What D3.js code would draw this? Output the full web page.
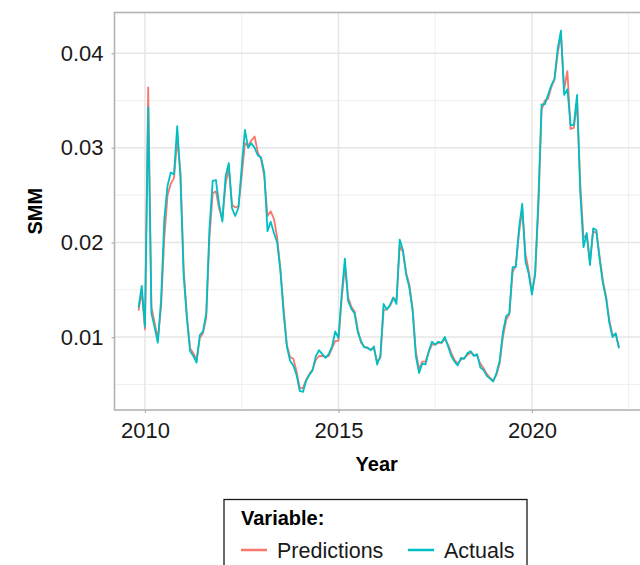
<!DOCTYPE html>
<html>
<head>
<meta charset="utf-8">
<script src="https://cdn.jsdelivr.net/npm/d3@7"></script>
<style>
  body { margin: 0; background: #fff; }
  svg { display: block; }
</style>
</head>
<body>
<div id="chart"></div>
<script>
// monthly SMM, first month Nov 2009
const startYear = 2009;
const startMonth = 10;

const actuals = [
  0.0131, 0.0154, 0.0111, 0.0343, 0.0125, 0.0110, 0.0094, 0.0140, 0.0225, 0.0260,
  0.0274, 0.0272, 0.0323, 0.0268, 0.0165, 0.0120, 0.0085, 0.0080, 0.0073, 0.0102,
  0.0106, 0.0125, 0.0215, 0.0265, 0.0266, 0.0240, 0.0222, 0.0270, 0.0284, 0.0236,
  0.0228, 0.0237, 0.0280, 0.0319, 0.0300, 0.0305, 0.0300, 0.0292, 0.0290, 0.0274,
  0.0212, 0.0222, 0.0210, 0.0200, 0.0170, 0.0125, 0.0090, 0.0075, 0.0070, 0.0060,
  0.0043, 0.0042, 0.0054, 0.0060, 0.0065, 0.0080, 0.0086, 0.0082, 0.0078, 0.0082,
  0.0090, 0.0106, 0.0099, 0.0145, 0.0183, 0.0138, 0.0130, 0.0125, 0.0105, 0.0096,
  0.0089, 0.0089, 0.0086, 0.0090, 0.0071, 0.0080, 0.0135, 0.0129, 0.0134, 0.0142,
  0.0135, 0.0203, 0.0192, 0.0166, 0.0152, 0.0128, 0.0080, 0.0062, 0.0072, 0.0071,
  0.0085, 0.0095, 0.0092, 0.0095, 0.0094, 0.0100, 0.0090, 0.0080, 0.0074, 0.0070,
  0.0078, 0.0077, 0.0083, 0.0085, 0.0080, 0.0082, 0.0068, 0.0065, 0.0059, 0.0056,
  0.0053, 0.0062, 0.0075, 0.0105, 0.0122, 0.0125, 0.0174, 0.0174, 0.0215, 0.0241,
  0.0180, 0.0167, 0.0145, 0.0168, 0.0245, 0.0346, 0.0346, 0.0356, 0.0366, 0.0373,
  0.0405, 0.0424, 0.0356, 0.0362, 0.0324, 0.0324, 0.0356, 0.0252, 0.0195, 0.0210,
  0.0176, 0.0215, 0.0213, 0.0182, 0.0157, 0.0141, 0.0115, 0.0100, 0.0104, 0.0088
];

const predictions = [
  0.0128, 0.0148, 0.0108, 0.0364, 0.0132, 0.0115, 0.0098, 0.0132, 0.0205, 0.0250,
  0.0262, 0.0268, 0.0309, 0.0275, 0.0172, 0.0122, 0.0088, 0.0083, 0.0076, 0.0099,
  0.0104, 0.0121, 0.0205, 0.0252, 0.0254, 0.0236, 0.0225, 0.0262, 0.0278, 0.0240,
  0.0237, 0.0238, 0.0270, 0.0305, 0.0302, 0.0308, 0.0312, 0.0295, 0.0288, 0.0270,
  0.0228, 0.0233, 0.0225, 0.0205, 0.0172, 0.0130, 0.0092, 0.0079, 0.0077, 0.0064,
  0.0046, 0.0046, 0.0055, 0.0061, 0.0066, 0.0076, 0.0080, 0.0080, 0.0079, 0.0080,
  0.0088, 0.0096, 0.0096, 0.0140, 0.0175, 0.0142, 0.0132, 0.0127, 0.0108, 0.0094,
  0.0090, 0.0088, 0.0087, 0.0088, 0.0074, 0.0078, 0.0128, 0.0130, 0.0133, 0.0140,
  0.0140, 0.0196, 0.0190, 0.0168, 0.0155, 0.0130, 0.0085, 0.0066, 0.0074, 0.0074,
  0.0084, 0.0092, 0.0092, 0.0094, 0.0094, 0.0098, 0.0092, 0.0083, 0.0076, 0.0072,
  0.0076, 0.0078, 0.0081, 0.0084, 0.0081, 0.0080, 0.0072, 0.0067, 0.0061, 0.0057,
  0.0054, 0.0060, 0.0072, 0.0100, 0.0118, 0.0124, 0.0168, 0.0176, 0.0210, 0.0235,
  0.0188, 0.0170, 0.0147, 0.0165, 0.0236, 0.0340, 0.0350, 0.0352, 0.0364, 0.0372,
  0.0400, 0.0420, 0.0362, 0.0381, 0.0320, 0.0321, 0.0348, 0.0262, 0.0205, 0.0208,
  0.0180, 0.0212, 0.0210, 0.0185, 0.0160, 0.0143, 0.0118, 0.0102, 0.0103, 0.0089
];

const xTicks = [2010, 2015, 2020];
const xMinor = [2012.5, 2017.5, 2022.5];
const yTicks = [0.01, 0.02, 0.03, 0.04];
const yMinor = [0.005, 0.015, 0.025, 0.035];
const seriesNames = ["Predictions", "Actuals"];
const seriesColors = ["#F8766D", "#00BFC4"];

const width = 640, height = 565;
const panel = { left: 114.5, top: 12.5, right: 643, bottom: 410 };
const font = "'Liberation Sans', Arial, sans-serif";

const svg = d3.select("#chart")
  .append("svg")
  .attr("width", width)
  .attr("height", height)
  .style("font-family", font);

const years = actuals.map((d, i) => startYear + (startMonth + i) / 12);

// ggplot-like 5% expansion
const xExt = d3.extent(years);
const xPad = (xExt[1] - xExt[0]) * 0.05;
const yExt = d3.extent(actuals.concat(predictions));
const yPad = (yExt[1] - yExt[0]) * 0.05;

const x = d3.scaleLinear()
  .domain([xExt[0] - xPad, xExt[1] + xPad])
  .range([panel.left, panel.right]);

const y = d3.scaleLinear()
  .domain([yExt[0] - yPad, yExt[1] + yPad])
  .range([panel.bottom, panel.top]);

// grid
const grid = svg.append("g");
grid.selectAll(".yminor").data(yMinor).join("line")
  .attr("x1", panel.left).attr("x2", panel.right)
  .attr("y1", d => y(d)).attr("y2", d => y(d))
  .attr("stroke", "#EEEEEE").attr("stroke-width", 1);
grid.selectAll(".xminor").data(xMinor).join("line")
  .attr("y1", panel.top).attr("y2", panel.bottom)
  .attr("x1", d => x(d)).attr("x2", d => x(d))
  .attr("stroke", "#EEEEEE").attr("stroke-width", 1);
grid.selectAll(".ymajor").data(yTicks).join("line")
  .attr("x1", panel.left).attr("x2", panel.right)
  .attr("y1", d => y(d)).attr("y2", d => y(d))
  .attr("stroke", "#E6E6E6").attr("stroke-width", 1.5);
grid.selectAll(".xmajor").data(xTicks).join("line")
  .attr("y1", panel.top).attr("y2", panel.bottom)
  .attr("x1", d => x(d)).attr("x2", d => x(d))
  .attr("stroke", "#E6E6E6").attr("stroke-width", 1.5);

// lines
const line = d3.line()
  .x((d, i) => x(years[i]))
  .y(d => y(d));

[predictions, actuals].forEach((s, k) => {
  svg.append("path")
    .datum(s)
    .attr("fill", "none")
    .attr("stroke", seriesColors[k])
    .attr("stroke-width", 1.8)
    .attr("stroke-linejoin", "round")
    .attr("d", line);
});

// panel border
svg.append("rect")
  .attr("x", panel.left).attr("y", panel.top)
  .attr("width", panel.right - panel.left)
  .attr("height", panel.bottom - panel.top)
  .attr("fill", "none")
  .attr("stroke", "#B3B3B3")
  .attr("stroke-width", 1.6);

// axes
const xAxis = svg.append("g")
  .attr("transform", `translate(0,${panel.bottom})`)
  .call(d3.axisBottom(x).tickValues(xTicks).tickFormat(d3.format("d")).tickSizeOuter(0).tickSize(3).tickPadding(9));
const yAxis = svg.append("g")
  .attr("transform", `translate(${panel.left},0)`)
  .call(d3.axisLeft(y).tickValues(yTicks).tickFormat(d3.format(".2f")).tickSizeOuter(0).tickSize(3).tickPadding(8));

[xAxis, yAxis].forEach(a => {
  a.select(".domain").remove();
  a.selectAll(".tick line").attr("stroke", "#B3B3B3").attr("stroke-width", 1.2);
  a.selectAll(".tick text")
    .attr("fill", "#1A1A1A")
    .style("font-size", "22px")
    .style("font-family", font);
});

// titles
svg.append("text")
  .attr("x", (panel.left + panel.right) / 2 - 2)
  .attr("y", 471)
  .attr("text-anchor", "middle")
  .style("font-size", "20px")
  .style("font-weight", "bold")
  .text("Year");

svg.append("text")
  .attr("transform", `translate(42,${(panel.top + panel.bottom) / 2}) rotate(-90)`)
  .attr("text-anchor", "middle")
  .style("font-size", "20px")
  .style("font-weight", "bold")
  .text("SMM");

// legend
const legend = svg.append("g");
legend.append("rect")
  .attr("x", 224).attr("y", 499.5)
  .attr("width", 303).attr("height", 90)
  .attr("fill", "#fff")
  .attr("stroke", "#1A1A1A")
  .attr("stroke-width", 1.3);

legend.append("text")
  .attr("x", 241).attr("y", 525)
  .style("font-size", "20px")
  .style("font-weight", "bold")
  .text("Variable:");

const keyX = [241, 408];
const keys = legend.selectAll(".key").data(seriesNames).join("g")
  .attr("transform", (d, i) => `translate(${keyX[i]},550)`);
keys.append("line")
  .attr("x1", 0).attr("x2", 26)
  .attr("stroke", (d, i) => seriesColors[i])
  .attr("stroke-width", 2.5);
keys.append("text")
  .attr("x", 36).attr("y", 7.5)
  .style("font-size", "21.5px")
  .attr("fill", "#1A1A1A")
  .text(d => d);
</script>
</body>
</html>
